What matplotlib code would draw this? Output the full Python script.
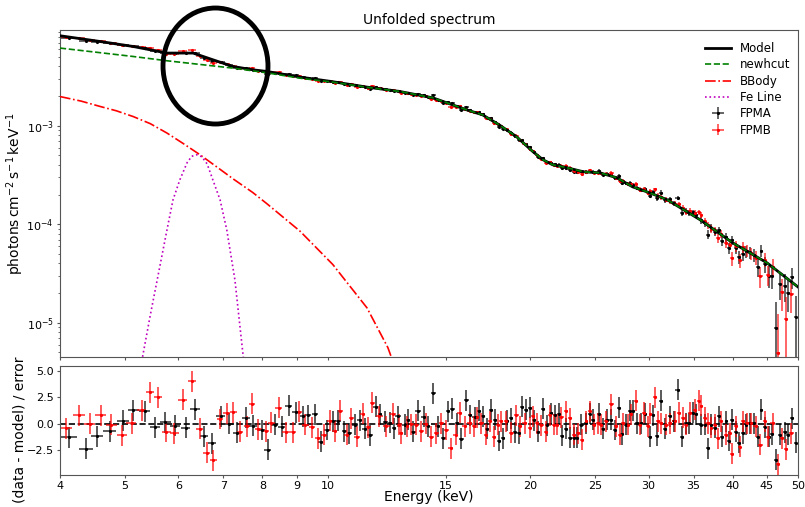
import numpy as np
import matplotlib
matplotlib.use("Agg")
import matplotlib.pyplot as plt
from matplotlib.patches import Ellipse
from matplotlib.ticker import FixedLocator, FixedFormatter, NullLocator

# model curves (energy in keV, flux in photons cm^-2 s^-1 keV^-1)
model_e = [4.0, 4.59, 5.14, 5.77, 6.31, 6.75, 7.23, 7.74, 8.12, 9.10, 10.18, 11.44, 12.8,
           14.34, 16.1, 17.0, 18.0, 19.1, 20.2, 20.9, 21.6, 22.7, 24.0, 25.4, 26.9, 28.4,
           30.1, 32.0, 35.8, 40.0, 45.0, 50.0]
model_f = [8.20e-3, 7.17e-3, 6.38e-3, 5.47e-3, 5.47e-3, 4.68e-3, 4.00e-3, 3.70e-3, 3.56e-3,
           3.12e-3, 2.80e-3, 2.47e-3, 2.23e-3, 1.92e-3, 1.45e-3, 1.29e-3, 1.02e-3, 7.73e-4,
           5.45e-4, 4.52e-4, 4.02e-4, 3.75e-4, 3.41e-4, 3.33e-4, 2.97e-4, 2.40e-4, 2.09e-4,
           1.77e-4, 1.11e-4, 6.49e-5, 4.06e-5, 2.32e-5]

cut_e = [4.0, 5.14, 5.77, 7.23, 8.12, 9.10, 10.18, 11.44, 12.8, 14.34, 16.1, 17.0, 18.0,
         19.1, 20.2, 20.9, 21.6, 22.7, 24.0, 25.4, 26.9, 28.4, 30.1, 32.0, 35.8, 40.0, 45.0, 50.0]
cut_f = [6.15e-3, 5.05e-3, 4.57e-3, 3.85e-3, 3.45e-3, 3.04e-3, 2.77e-3, 2.46e-3, 2.23e-3,
         1.92e-3, 1.45e-3, 1.29e-3, 1.02e-3, 7.73e-4, 5.45e-4, 4.52e-4, 4.02e-4, 3.75e-4,
         3.41e-4, 3.33e-4, 2.97e-4, 2.40e-4, 2.09e-4, 1.77e-4, 1.11e-4, 6.49e-5, 4.06e-5, 2.32e-5]

bb_e = [4.0, 4.3, 4.59, 4.85, 5.14, 5.45, 5.77, 6.1, 6.46, 6.85, 7.23, 7.74, 8.12, 9.10,
        10.18, 11.44, 12.29, 12.6]
bb_f = [1.98e-3, 1.78e-3, 1.57e-3, 1.42e-3, 1.24e-3, 1.05e-3, 8.43e-4, 6.6e-4, 5.08e-4,
        3.8e-4, 2.9e-4, 2.1e-4, 1.62e-4, 8.5e-5, 3.9e-5, 1.42e-5, 5.6e-6, 3.5e-6]

fe_e = [5.2, 5.31, 5.45, 5.58, 5.77, 5.89, 6.03, 6.18, 6.28, 6.39, 6.5, 6.62, 6.75, 6.92,
        7.08, 7.28, 7.48, 7.6]
fe_f = [2.0e-6, 4.6e-6, 1.2e-5, 2.73e-5, 8.79e-5, 1.77e-4, 2.83e-4, 4.21e-4, 4.9e-4,
        5.08e-4, 4.85e-4, 4.1e-4, 2.83e-4, 1.77e-4, 8.79e-5, 2.73e-5, 4.96e-6, 2.0e-6]

# fractional flux error vs energy
err_e = [4, 10, 20, 25, 30, 35, 40, 45, 50]
err_frac = [0.015, 0.02, 0.03, 0.04, 0.05, 0.07, 0.11, 0.18, 0.3]

# FPMA bins and residuals
fpma_e = [4.12, 4.37, 4.54, 4.74, 4.97, 5.14, 5.35, 5.54, 5.74, 5.94,
          6.15, 6.35, 6.55, 6.74, 6.93, 7.14, 7.34, 7.56, 7.75, 7.98,
          8.14, 8.35, 8.54, 8.75, 8.97, 9.18, 9.36, 9.58, 9.76, 9.97,
          10.19, 10.37, 10.59, 10.77, 10.98, 11.17, 11.36, 11.56, 11.80, 11.96,
          12.19, 12.37, 12.56, 12.73,
          13.02, 13.17, 13.40, 13.63, 13.90, 14.10, 14.35, 14.59, 14.85, 15.10,
          15.33, 15.58, 15.81, 16.08, 16.30, 16.54, 16.79, 17.02, 17.26, 17.48,
          17.76, 17.98, 18.23, 18.48, 18.76, 18.97, 19.23, 19.48, 19.74, 19.97,
          20.25, 20.55, 20.90, 21.19, 21.51, 21.76, 22.08, 22.31, 22.59, 22.90,
          23.22, 23.48, 23.84, 24.25, 24.52, 24.81, 25.32, 25.67, 26.02, 26.41,
          26.71, 27.08, 27.42, 27.80, 28.12, 28.44, 28.84, 29.27, 29.60, 30.11,
          30.46, 30.88, 31.34, 31.77, 32.25, 32.69, 33.14, 33.68, 34.06, 34.45,
          34.93, 35.33, 35.86, 36.35, 36.76, 37.19, 37.62, 38.17, 38.61, 39.15,
          39.50, 39.91, 40.42, 40.88, 41.45, 41.92, 42.40, 42.99, 43.63, 44.13,
          44.63, 45.30, 45.82, 46.45, 46.99, 47.80, 48.35, 49.07, 49.63]
fpma_res = [-1.3, -2.4, -1.2, -0.7, 0.3, 1.3, 1.2, -0.35, 0.15, -0.2,
            -0.4, 1.4, -1.2, -1.85, 0.7, 0.0, -0.85, 0.55, -0.2, -0.6,
            -2.5, -0.1, -0.3, 1.7, 1.1, 0.7, 0.8, 0.9, -1.7, -0.6,
            0.25, 0.3, -0.7, -0.9, -0.1, 0.35, -0.5, -1.1, 1.6, 0.9,
            0.2, 0.1, -0.45, 0.7,
            -0.1, 0.4, -0.75, 1.25, 0.65, -0.25, 2.9, -0.25, -1.4, 1.2,
            1.45, 0.05, -1.45, 2.25, 0.8, 0.6, 1.25, 0.7, -0.5, 1.35,
            0.4, -1.65, -1.4, 0.3, 0.5, -0.8, -0.9, 1.6, 1.35, 1.5,
            0.35, -0.75, 1.45, -0.15, 1.0, 0.8, 0.95, -1.15, -0.5, -1.35,
            -1.35, -1.35, -0.1, 0.05, 0.95, 0.4, 0.95, -0.5, 0.4, 0.4,
            -0.6, 1.5, -1.0, -0.1, 1.25, 1.25, 0.05, 0.05, 0.95, -1.25,
            0.8, -1.15, 2.2, -0.5, 0.7, 0.25, 3.25, -1.25, 0.05, 0.05,
            1.05, 0.9, -0.1, -0.1, -2.35, -0.1, -0.4, 0.7, -1.25, 0.25,
            -1.65, 0.4, -0.75, -1.8, -0.9, -0.1, 0.05, 0.05, -1.25, 1.35,
            -0.35, -1.25, -1.0, -3.45, -1.05, -0.8, -1.05, 0.5, -1.8]

# FPMB bins and residuals
fpmb_e = [4.08, 4.27, 4.43, 4.60, 4.77, 4.94, 5.11, 5.29, 5.44, 5.60,
          5.76, 5.92, 6.09, 6.28, 6.45, 6.61, 6.76, 6.92, 7.08, 7.24,
          7.41, 7.58, 7.73, 7.89, 8.09, 8.25, 8.46, 8.66, 8.87, 9.06,
          9.27, 9.47, 9.68, 9.87, 10.08, 10.25, 10.45, 10.67, 10.85, 11.06,
          11.27, 11.49, 11.66, 11.93, 12.23, 12.49, 12.76,
          12.87, 13.10, 13.32, 13.55, 13.79, 13.99, 14.27, 14.51, 14.76, 15.02,
          15.24, 15.50, 15.72, 15.99, 16.26, 16.49, 16.68, 16.93, 17.18, 17.42,
          17.68, 17.92, 18.12, 18.44, 18.76, 19.08, 19.34, 19.63, 19.97, 20.20,
          20.48, 20.79, 21.14, 21.39, 21.68, 21.93, 22.26, 22.59, 22.90, 23.22,
          23.56, 23.92, 24.25, 24.52, 24.86, 25.23, 25.52, 25.96, 26.41, 26.80,
          27.17, 27.49, 27.96, 28.28, 28.71, 29.10, 29.54, 29.94, 30.18, 30.63,
          30.98, 31.34, 31.88, 32.32, 32.80, 33.29, 33.75, 34.14, 34.61, 35.13,
          35.61, 35.94, 36.35, 36.76, 37.19, 37.62, 38.05, 38.48, 39.06, 39.61,
          39.91, 40.51, 40.98, 41.45, 42.02, 42.65, 43.28, 43.98, 44.63, 45.15,
          45.93, 46.72, 47.42, 48.07, 48.90]
fpmb_res = [-0.45, 0.8, 0.0, 0.8, -0.1, -1.1, 0.05, 1.3, 3.0, 2.5,
            -0.75, -0.9, 2.3, 4.05, -0.5, -2.75, -3.5, 0.45, 1.0, 1.1,
            -0.75, -0.25, 1.9, -0.55, -0.7, 0.1, 1.5, -0.8, -0.8, 1.15,
            -0.1, -0.35, -1.4, -1.05, 0.3, -0.7, 1.25, -1.05, 0.5, -1.25,
            0.95, -0.35, 2.0, 0.7, -0.25, 0.95, -0.1,
            -0.9, -0.25, -0.05, -0.1, -0.7, 0.0, -1.25, -0.9, 0.05, -0.6,
            -2.35, -1.05, 1.05, -0.25, 0.05, -0.25, 0.6, 0.05, -1.05, 0.25,
            -1.25, -0.1, 0.25, 0.25, -0.85, 0.8, -0.25, 0.05, -0.4, 0.7,
            0.05, -0.15, -0.75, 0.8, -0.1, -0.1, 0.6, 1.2, 0.5, -1.05,
            -0.9, -1.55, 0.25, 1.2, -0.1, 0.05, -0.1, 0.25, 1.85, -0.25,
            -1.05, 0.05, -0.1, 0.9, 2.2, -0.1, 1.05, -0.25, 0.95, 2.5,
            0.25, 0.05, -0.1, 0.05, 0.25, 1.05, 0.55, -0.1, 1.05, 1.35,
            2.2, 1.7, 0.55, 0.05, -0.4, -0.1, -1.4, 0.25, -1.05, -0.9,
            -2.85, -0.25, -2.2, 0.25, 0.05, 0.05, -0.25, -2.0, 0.25, -1.25,
            0.05, -3.85, -1.4, -2.45, -0.9]

tick_e = [4, 5, 6, 7, 8, 9, 10, 15, 20, 25, 30, 35, 40, 45, 50]


def unfold(e, res):
    # flux points from residual = (data - model) / error
    e = np.array(e)
    res = np.array(res)
    m = np.exp(np.interp(np.log(e), np.log(model_e), np.log(model_f)))
    frac = np.interp(e, err_e, err_frac)
    xerr = np.gradient(e) / 2
    return e, res, m * (1 + res * frac), m * frac, xerr


fig = plt.figure(figsize=(8.05, 5.07), dpi=100)
ax1 = fig.add_axes([0.0745, 0.296, 0.9165, 0.645])
ax2 = fig.add_axes([0.0745, 0.063, 0.9165, 0.215])

inst = [("FPMA", fpma_e, fpma_res, "black", (0, 0, 0, 0.7)),
        ("FPMB", fpmb_e, fpmb_res, "red", (1, 0, 0, 0.7))]
handles = []
for name, e, r, c, ec in inst:
    e, r, f, ferr, xerr = unfold(e, r)
    h = ax1.errorbar(e, f, yerr=ferr, xerr=xerr, fmt=".", color=c, ecolor=ec,
                     ms=2.5, elinewidth=1.2, label=name, zorder=2)
    handles.append(h)
    ax2.errorbar(e, r, yerr=1, xerr=xerr, fmt=".", color=c, ecolor=ec,
                 ms=2.5, elinewidth=1.3, zorder=2)

l1, = ax1.plot(model_e, model_f, color="black", lw=2, label="Model", zorder=3)
l2, = ax1.plot(cut_e, cut_f, color="green", ls="--", lw=1.2, label="newhcut", zorder=4)
l3, = ax1.plot(bb_e, bb_f, color="red", ls="-.", lw=1.2, label="BBody", zorder=4)
l4, = ax1.plot(fe_e, fe_f, color="m", ls=":", lw=1.2, label="Fe Line", zorder=4)

ax1.set_xscale("log")
ax1.set_yscale("log")
ax1.set_xlim(4, 50)
ax1.set_ylim(4.5e-6, 9.4e-3)
ax1.set_title("Unfolded spectrum", fontsize=10, pad=4)
ax1.set_ylabel(r"$\mathrm{photons\,cm^{-2}\,s^{-1}\,keV^{-1}}$", fontsize=10)
ax1.yaxis.set_label_coords(-0.046, 0.5)
ax1.legend(handles=[l1, l2, l3, l4] + handles, loc="upper right", frameon=False,
           fontsize=8.5, labelspacing=0.28, handlelength=2.2,
           bbox_to_anchor=(1.005, 0.995))

ax2.axhline(0, color="black", ls="--", lw=1.2, zorder=1)
ax2.set_xscale("log")
ax2.set_xlim(4, 50)
ax2.set_ylim(-4.9, 5.5)
ax2.set_yticks([-2.5, 0.0, 2.5, 5.0])
ax2.set_ylabel("(data - model) / error", fontsize=10)
ax2.yaxis.set_label_coords(-0.046, 0.42)
ax2.set_xlabel("Energy (keV)", fontsize=10, labelpad=-1)

for ax in (ax1, ax2):
    ax.xaxis.set_major_locator(FixedLocator(tick_e))
    ax.xaxis.set_minor_locator(NullLocator())
    ax.xaxis.set_major_formatter(FixedFormatter([str(t) for t in tick_e]))
    ax.tick_params(labelsize=8, color="#555555", length=2.5, pad=2)
    ax.tick_params(which="minor", length=1.5, color="#555555")
    for s in ax.spines.values():
        s.set_color("#555555")
ax1.tick_params(axis="x", labelbottom=False)

ring = Ellipse((0.2677, 0.8698), 0.1304, 0.2288, transform=fig.transFigure,
               fill=False, edgecolor="black", lw=3.5, clip_on=False, zorder=10)
fig.add_artist(ring)

fig.savefig("out.png", dpi=100)
